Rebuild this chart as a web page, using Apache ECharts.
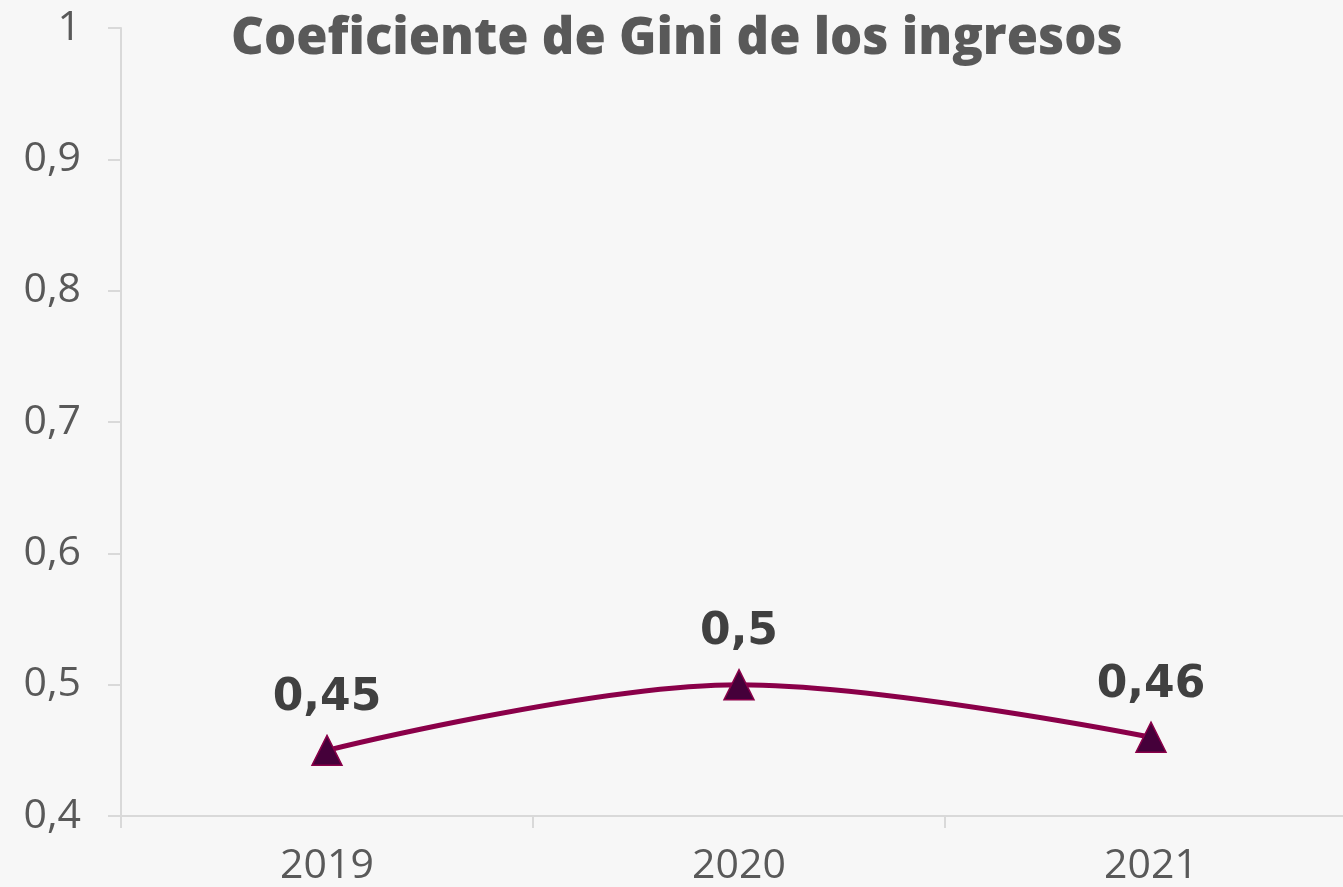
<!DOCTYPE html>
<html><head><meta charset="utf-8">
<script src="https://cdn.jsdelivr.net/npm/echarts@6/dist/echarts.min.js"></script>
<style>html,body{margin:0;padding:0;background:#f7f7f7;overflow:hidden;}#c{width:1357px;height:887px;}</style>
</head><body><div id="c"></div>
<script>
const titleText = 'Coeficiente de Gini de los ingresos';
const categories = ['2019', '2020', '2021'];
const giniValues = [0.45, 0.5, 0.46];
const yMin = 0.4, yMax = 1, yStep = 0.1;

const fmt = v => String(+(+v).toFixed(2)).replace('.', ',');
const chart = echarts.init(document.getElementById('c'));
chart.setOption({
  backgroundColor: '#f7f7f7',
  animation: false,
  title: {
    text: titleText, left: 226, top: 9,
    textStyle: {fontFamily: 'Open Sans', fontWeight: 800, fontSize: 50.7, color: '#595959'}
  },
  grid: {left: 121, right: 0, top: 28, bottom: 69},
  xAxis: {
    type: 'category', data: categories, boundaryGap: true,
    axisLine: {lineStyle: {color: '#d9d9d9', width: 2}},
    axisTick: {show: true, length: 12, lineStyle: {color: '#d9d9d9', width: 2}},
    axisLabel: {margin: 30, fontFamily: 'Open Sans', fontSize: 41, color: '#595959'}
  },
  yAxis: {
    type: 'value', min: yMin, max: yMax, interval: yStep,
    axisLine: {show: true, lineStyle: {color: '#d9d9d9', width: 2}},
    axisTick: {show: true, length: 13, lineStyle: {color: '#d9d9d9', width: 2}},
    splitLine: {show: false},
    axisLabel: {margin: 40, fontFamily: 'Open Sans', fontSize: 41, color: '#595959', formatter: v => fmt(v)}
  },
  series: [{
    type: 'line', data: giniValues, smooth: 0.35,
    lineStyle: {color: '#8a0049', width: 5},
    symbol: 'triangle', symbolSize: 30,
    itemStyle: {color: '#45003a', borderColor: '#8a0049', borderWidth: 1.5},
    label: {show: true, position: 'top', distance: 14, formatter: p => fmt(p.value),
      fontFamily: 'DejaVu Sans', fontWeight: 'bold', fontSize: 44, color: '#404040'}
  }]
});
</script></body></html>
